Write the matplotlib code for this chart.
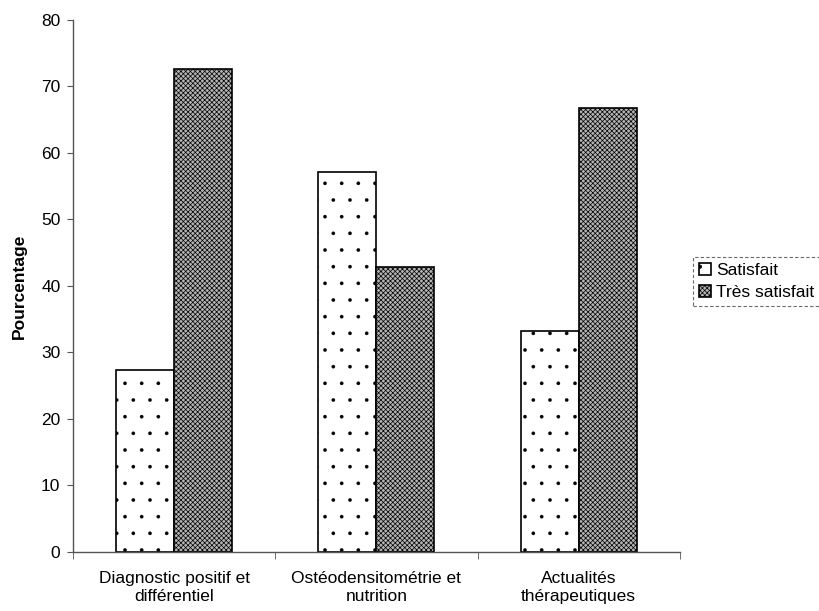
import matplotlib
matplotlib.use("Agg")
import matplotlib.pyplot as plt
import numpy as np

categories = ["Diagnostic positif et\ndifférentiel",
              "Ostéodensitométrie et\nnutrition",
              "Actualités\nthérapeutiques"]
satisfait = [27.3, 57.1, 33.3]
tres_satisfait = [72.7, 42.9, 66.7]
series_names = ["Satisfait", "Très satisfait"]
yticks = [0, 10, 20, 30, 40, 50, 60, 70, 80]

plt.rcParams['font.family'] = ['Liberation Sans', 'DejaVu Sans']

fig = plt.figure(figsize=(8.2, 6.11), dpi=100)
ax = fig.add_axes([0.089, 0.0966, 0.740, 0.8707])

x = np.arange(len(categories))
w = 0.287
plt.rcParams['hatch.linewidth'] = 0.2
b1 = ax.bar(x - w/2, satisfait, width=w, facecolor='white', edgecolor='black',
            hatch='.', linewidth=1.2, label=series_names[0])
plt.rcParams['hatch.linewidth'] = 0.5
b2 = ax.bar(x + w/2, tres_satisfait, width=w, facecolor='#b4b4b4', edgecolor='black',
            hatch='xxxxxxx', linewidth=1.2, label=series_names[1])

ax.set_xlim(-0.5, len(categories) - 0.5)
ax.set_ylim(0, 80)
ax.set_yticks(yticks)
ax.tick_params(axis='y', labelsize=12.5, length=4, color='#555555', pad=5)
ax.set_xticks(x)
ax.set_xticklabels(categories, fontsize=12.5)
ax.tick_params(axis='x', which='major', length=0, pad=14)
ax.set_xticks(np.arange(len(categories) + 1) - 0.5, minor=True)
ax.tick_params(axis='x', which='minor', length=5, direction='out', color='#555555')

for s in ['top', 'right']:
    ax.spines[s].set_visible(False)
for s in ['left', 'bottom']:
    ax.spines[s].set_color('#555555')
    ax.spines[s].set_linewidth(1.0)

ax.set_ylabel("Pourcentage", fontsize=12.5, fontweight='bold', labelpad=10)

leg = fig.legend(handles=[b1, b2], labels=series_names, loc='upper left',
                 bbox_to_anchor=(0.845, 0.580), fontsize=12.5, frameon=True,
                 fancybox=False, handlelength=0.7, handleheight=0.7,
                 handletextpad=0.3, borderpad=0.35, labelspacing=0.4,
                 borderaxespad=0)
fr = leg.get_frame()
fr.set_edgecolor('#444444')
fr.set_linestyle((0, (3, 2)))
fr.set_linewidth(0.8)

fig.savefig("out.png", dpi=100)
